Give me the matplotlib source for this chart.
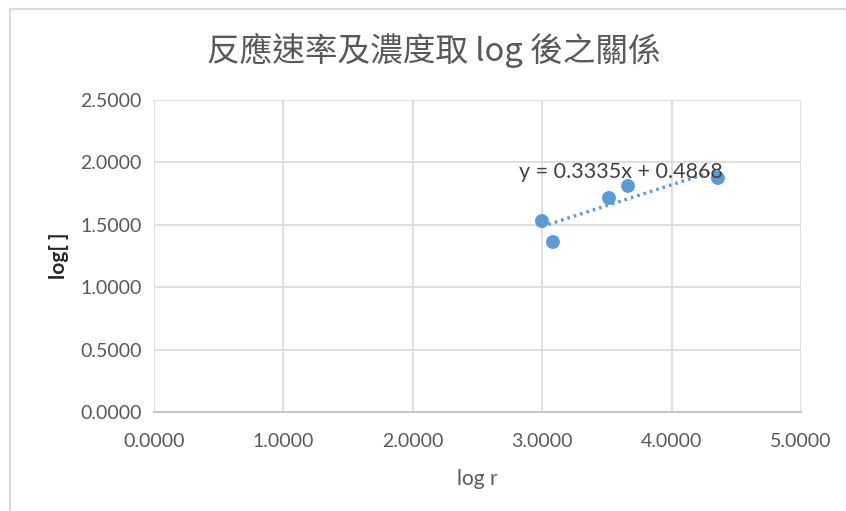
import matplotlib
matplotlib.use("Agg")
import matplotlib.pyplot as plt
from matplotlib.lines import Line2D
import numpy as np

# log r vs log[ ] measurements
log_r = [2.998, 3.083, 3.516, 3.663, 4.358]
log_c = [1.530, 1.362, 1.715, 1.811, 1.875]

# linear trendline coefficients
slope = 0.3335
intercept = 0.4868

x_ticks = [0, 1, 2, 3, 4, 5]
y_ticks = [0, 0.5, 1.0, 1.5, 2.0, 2.5]

title = "反應速率及濃度取 log 後之關係"
x_label = "log r"
y_label = "log[ ]"

plt.rcParams['font.family'] = ['Lato', 'DejaVu Sans']

fig = plt.figure(figsize=(8.46, 5.11), dpi=100)
ax = fig.add_axes([154/846, 1-412/511, (801-154)/846, (412-100)/511])

blue = "#5b9bd5"
grid = "#d9d9d9"
txt = "#595959"

ax.set_xlim(0, 5)
ax.set_ylim(0, 2.5)
ax.set_xticks(x_ticks)
ax.set_yticks(y_ticks)
ax.set_xticklabels([f"{v:.4f}" for v in x_ticks])
ax.set_yticklabels([f"{v:.4f}" for v in y_ticks])
ax.grid(True, color=grid, linewidth=1.2)
ax.set_axisbelow(True)
for s in ax.spines.values():
    s.set_visible(False)
ax.spines['bottom'].set_visible(True)
ax.spines['bottom'].set_color("#bfbfbf")
ax.spines['bottom'].set_linewidth(1.2)
ax.tick_params(length=0, labelsize=14, colors=txt, pad=9)
ax.tick_params(axis='x', pad=15)

ax.scatter(log_r, log_c, s=100, color=blue, zorder=3, edgecolors='none')

xs = np.array([min(log_r), max(log_r)])
ax.plot(xs, slope * xs + intercept, linestyle=(0, (0.8, 1.2)),
        color=blue, linewidth=2.4, zorder=2)

ax.text(3.61, 1.92, f"y = {slope}x + {intercept}", ha='center', va='center',
        fontsize=15.5, color="#404040")

ax.set_xlabel(x_label, fontsize=15, color=txt, labelpad=14)
ax.set_ylabel(y_label, fontsize=15, color="#262626", fontweight='bold', labelpad=8)

fig.text(434/846, 1-50/511, title, ha='center', va='center', fontsize=23.5,
         color="#595959", family=['Noto Sans CJK TC', 'DejaVu Sans'], fontweight='light')

# chart frame
fig.add_artist(Line2D([10/846, 1], [1-9/511, 1-9/511], color="#d9d9d9", linewidth=1.5, transform=fig.transFigure))
fig.add_artist(Line2D([10/846, 10/846], [0, 1-9/511], color="#d9d9d9", linewidth=1.5, transform=fig.transFigure))

fig.savefig("out.png", dpi=100)
